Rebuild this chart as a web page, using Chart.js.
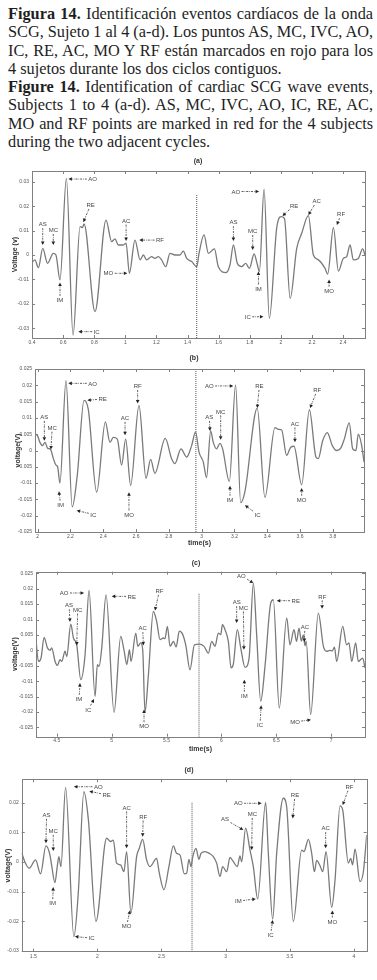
<!DOCTYPE html>
<html><head><meta charset="utf-8">
<script src="https://cdn.jsdelivr.net/npm/chart.js@4.4.0/dist/chart.umd.min.js"></script>
<style>
html,body{margin:0;padding:0;background:#fff;}
body{width:377px;height:980px;position:relative;overflow:hidden;}
#cap{position:absolute;left:8px;top:5px;width:365px;font-family:"Liberation Serif","Times New Roman",serif;font-size:16.3px;line-height:18.3px;color:#1e1e1e;}
#cap .ln{white-space:nowrap;}
canvas{position:absolute;left:0;}
</style>
</head><body>
<div id="cap">
<div class="ln j"><span><b>Figura 14.</b> Identificación eventos cardíacos de la onda</span></div>
<div class="ln j"><span>SCG, Sujeto 1 al 4 (a-d). Los puntos AS, MC, IVC, AO,</span></div>
<div class="ln j"><span>IC, RE, AC, MO Y RF están marcados en rojo para los</span></div>
<div class="ln"><span>4 sujetos durante los dos ciclos contiguos.</span></div>
<div class="ln j"><span><b>Figure 14.</b> Identification of cardiac SCG wave events,</span></div>
<div class="ln j"><span>Subjects 1 to 4 (a-d). AS, MC, IVC, AO, IC, RE, AC,</span></div>
<div class="ln j"><span>MO and RF points are marked in red for the 4 subjects</span></div>
<div class="ln"><span>during the two adjacent cycles.</span></div>
</div>
<canvas id="pa" width="377" height="204" style="top:148px"></canvas>
<canvas id="pb" width="377" height="200" style="top:352px"></canvas>
<canvas id="pc" width="377" height="205" style="top:553px"></canvas>
<canvas id="pd" width="377" height="217" style="top:758px"></canvas>
<script>
// ---------- Panel (a) ----------
const timeA = [0.400,0.419,0.441,0.469,0.500,0.537,0.554,0.580,0.621,0.664,0.709,0.724,0.735,0.805,0.876,0.912,0.934,0.955,0.987,1.005,1.026,1.062,1.095,1.116,1.137,1.169,1.190,1.212,1.233,1.260,1.287,1.319,1.351,1.373,1.395,1.427,1.459,1.474,1.506,1.534,1.573,1.598,1.648,1.673,1.695,1.720,1.748,1.774,1.798,1.828,1.849,1.862,1.892,1.926,1.973,2.001,2.023,2.060,2.102,2.134,2.177,2.209,2.241,2.284,2.301,2.338,2.370,2.402,2.423,2.445,2.466,2.498,2.526,2.541];
const voltA = [-0.0030,-0.0020,-0.0052,0.0027,-0.0034,0.0007,0.0000,-0.0102,0.0314,-0.0328,0.0116,0.0112,0.0127,-0.0232,0.0143,0.0055,0.0066,0.0041,0.0041,0.0048,-0.0075,0.0061,-0.0020,0.0000,-0.0020,-0.0007,-0.0014,-0.0007,-0.0020,-0.0048,0.0007,0.0000,0.0000,0.0016,-0.0014,-0.0027,-0.0048,0.0007,0.0082,0.0007,0.0025,-0.0048,-0.0072,-0.0040,0.0041,-0.0034,-0.0048,-0.0034,-0.0055,0.0004,-0.0040,-0.0068,0.0270,-0.0260,0.0109,0.0157,0.0150,-0.0178,0.0027,0.0089,0.0161,0.0000,-0.0020,-0.0055,-0.0078,0.0112,-0.0066,-0.0014,-0.0007,0.0041,-0.0020,-0.0014,0.0025,0.0000];
const xTicksA = [0.4,0.6,0.8,1,1.2,1.4,1.6,1.8,2,2.2,2.4];
const yTicksA = [-0.03,-0.02,-0.01,0,0.01,0.02,0.03];
const dividerA = [1.459, 0.025];
const eventsA = [
  ['AS',0.469,0.0041,0.469,0.0126],['MC',0.537,0.0041,0.537,0.0102],['IM',0.580,-0.0113,0.580,-0.0184],
  ['AO',0.634,0.0311,0.790,0.0311],['IC',0.698,-0.0314,0.816,-0.0314],['RE',0.730,0.0134,0.777,0.0205],
  ['AC',1.005,0.0057,1.005,0.0141],['RF',1.090,0.0061,1.223,0.0061],['MO',1.013,-0.0075,0.891,-0.0075],
  ['AO',1.860,0.0260,1.710,0.0260],['AS',1.695,0.0057,1.695,0.0134],['MC',1.819,0.0020,1.819,0.0098],
  ['IM',1.856,-0.0068,1.856,-0.0137],['IC',1.888,-0.0253,1.787,-0.0253],['RE',2.010,0.0160,2.085,0.0202],
  ['AC',2.177,0.0164,2.231,0.0221],['RF',2.360,0.0123,2.387,0.0167],['MO',2.310,-0.0100,2.310,-0.0146]
];

// ---------- Panel (b) ----------
const timeB = [1.984,2.000,2.014,2.030,2.045,2.061,2.079,2.096,2.112,2.122,2.136,2.173,2.211,2.242,2.283,2.309,2.360,2.413,2.441,2.461,2.486,2.512,2.537,2.567,2.618,2.661,2.689,2.715,2.778,2.817,2.837,2.874,2.909,2.939,2.963,2.984,3.010,3.030,3.055,3.071,3.091,3.112,3.128,3.169,3.207,3.238,3.264,3.339,3.386,3.447,3.468,3.488,3.518,3.543,3.563,3.610,3.657,3.697,3.711,3.738,3.766,3.797,3.823,3.848,3.870,3.900,3.921,3.941,3.955,3.976,3.990];
const voltB = [0.0050,0.0045,0.0025,0.0015,0.0025,0.0007,0.0003,-0.0025,-0.0045,-0.0050,-0.0100,0.0214,-0.0173,-0.0075,0.0154,0.0126,-0.0128,0.0088,0.0025,0.0040,0.0035,-0.0045,0.0035,-0.0107,0.0138,-0.0085,-0.0027,-0.0070,0.0037,-0.0025,-0.0040,0.0005,-0.0020,0.0015,0.0057,-0.0005,-0.0035,-0.0083,0.0060,0.0025,0.0005,0.0022,0.0005,-0.0095,0.0201,-0.0160,-0.0126,0.0130,-0.0144,0.0070,0.0065,0.0063,-0.0015,0.0010,0.0013,-0.0105,0.0125,-0.0020,-0.0025,0.0030,0.0055,0.0015,0.0000,0.0007,0.0035,0.0085,0.0005,0.0000,0.0050,0.0015,-0.0035];
const xTicksB = [2,2.2,2.4,2.6,2.8,3,3.2,3.4,3.6,3.8];
const yTicksB = [-0.025,-0.02,-0.015,-0.01,-0.005,0,0.005,0.01,0.015,0.02,0.025];
const dividerB = [2.965, 0.025];
const eventsB = [
  ['AS',2.041,0.0030,2.041,0.0103],['MC',2.081,0.0003,2.089,0.0070],['IM',2.130,-0.0125,2.140,-0.0166],
  ['AO',2.187,0.0206,2.335,0.0206],['RE',2.303,0.0154,2.396,0.0158],['IC',2.238,-0.0184,2.339,-0.0196],
  ['AC',2.533,0.0047,2.533,0.0100],['RF',2.610,0.0144,2.610,0.0198],['MO',2.557,-0.0128,2.557,-0.0196],
  ['AO',3.193,0.0198,3.047,0.0198],['AS',3.051,0.0060,3.047,0.0103],['MC',3.116,0.0033,3.116,0.0120],
  ['IM',3.173,-0.0108,3.173,-0.0151],['IC',3.264,-0.0168,3.341,-0.0196],['RE',3.339,0.0130,3.352,0.0198],
  ['AC',3.569,0.0025,3.569,0.0083],['RF',3.661,0.0130,3.705,0.0186],['MO',3.610,-0.0115,3.610,-0.0151]
];

// ---------- Panel (c) ----------
const timeC = [4.312,4.333,4.357,4.385,4.415,4.439,4.454,4.485,4.506,4.530,4.545,4.576,4.591,4.628,4.652,4.682,4.719,4.758,4.794,4.849,4.870,4.885,4.910,4.949,5.022,5.083,5.113,5.138,5.162,5.177,5.220,5.238,5.265,5.283,5.304,5.335,5.380,5.410,5.441,5.471,5.486,5.508,5.532,5.563,5.587,5.617,5.648,5.675,5.714,5.754,5.796,5.842,5.881,5.912,5.942,5.972,5.994,6.009,6.033,6.063,6.088,6.109,6.145,6.176,6.215,6.252,6.291,6.321,6.358,6.397,6.449,6.473,6.527,6.595,6.625,6.661,6.685,6.707,6.728,6.745,6.762,6.772,6.813,6.883,6.929,6.959,6.989,7.010,7.030,7.050,7.105,7.141,7.162,7.187,7.223,7.247,7.287,7.308];
const voltC = [0.0029,-0.0036,-0.0025,0.0042,0.0008,0.0000,0.0008,-0.0036,-0.0049,-0.0030,-0.0036,-0.0003,-0.0020,0.0085,0.0040,0.0018,-0.0095,-0.0014,0.0194,-0.0149,-0.0046,-0.0052,0.0008,0.0180,-0.0201,0.0045,0.0000,-0.0046,0.0002,-0.0036,0.0056,0.0013,0.0024,0.0002,-0.0200,-0.0079,0.0126,0.0094,0.0035,0.0040,0.0038,0.0078,0.0013,0.0029,0.0011,0.0062,0.0051,0.0018,-0.0063,0.0018,0.0020,0.0013,-0.0009,0.0029,0.0013,0.0056,0.0051,0.0083,0.0067,0.0029,-0.0057,-0.0044,0.0067,0.0008,-0.0055,-0.0025,0.0218,0.0051,-0.0165,-0.0052,0.0153,0.0164,-0.0187,0.0105,0.0018,0.0067,0.0029,0.0072,0.0030,0.0050,0.0015,0.0030,-0.0208,0.0121,0.0013,-0.0003,0.0000,-0.0002,0.0010,-0.0036,0.0078,0.0018,0.0024,-0.0036,0.0024,-0.0036,-0.0025,-0.0057];
const xTicksC = [4.5,5,5.5,6,6.5,7];
const yTicksC = [-0.025,-0.02,-0.015,-0.01,-0.005,0,0.005,0.01,0.015,0.02,0.025];
const dividerC = [5.796, 0.0184];
const eventsC = [
  ['AO',4.749,0.0186,4.567,0.0186],['AS',4.621,0.0092,4.612,0.0146],['MC',4.682,0.0016,4.691,0.0132],
  ['IM',4.712,-0.0106,4.703,-0.0157],['IC',4.840,-0.0158,4.788,-0.0192],['RE',5.001,0.0175,5.183,0.0175],
  ['AC',5.289,0.0016,5.283,0.0072],['RF',5.395,0.0129,5.435,0.0193],['MO',5.295,-0.0192,5.295,-0.0246],
  ['AO',6.290,0.0218,6.181,0.0243],['AS',6.139,0.0089,6.139,0.0156],['MC',6.205,0.0002,6.200,0.0139],
  ['IM',6.209,-0.0095,6.209,-0.0147],['IC',6.362,-0.0178,6.352,-0.0241],['RE',6.504,0.0161,6.677,0.0161],
  ['AC',6.755,0.0027,6.761,0.0076],['RF',6.917,0.0135,6.919,0.0175],['MO',6.816,-0.0225,6.670,-0.0232]
];

// ---------- Panel (d) ----------
const timeD = [1.410,1.435,1.469,1.518,1.557,1.599,1.630,1.643,1.669,1.687,1.700,1.716,1.752,1.817,1.851,1.895,1.930,1.989,2.072,2.103,2.124,2.150,2.181,2.207,2.228,2.262,2.306,2.327,2.353,2.384,2.410,2.462,2.483,2.519,2.558,2.592,2.618,2.644,2.678,2.696,2.714,2.730,2.743,2.769,2.792,2.808,2.839,2.873,2.904,2.930,2.956,2.977,3.008,3.034,3.060,3.091,3.112,3.125,3.156,3.190,3.216,3.250,3.312,3.333,3.367,3.398,3.450,3.476,3.528,3.593,3.611,3.645,3.671,3.692,3.710,3.736,3.757,3.783,3.827,3.853,3.892,3.913,3.957,3.975,3.990,4.009,4.048,4.074,4.100];
const voltD = [0.0031,0.0000,-0.0021,0.0007,-0.0040,0.0054,0.0024,-0.0010,-0.0070,-0.0016,0.0018,-0.0016,0.0252,-0.0252,-0.0106,0.0237,0.0142,-0.0201,0.0080,0.0069,0.0074,-0.0004,-0.0010,-0.0033,0.0035,-0.0173,0.0018,0.0046,0.0076,0.0007,-0.0016,0.0012,-0.0038,-0.0094,-0.0016,0.0054,0.0029,0.0024,-0.0040,-0.0038,0.0009,-0.0016,0.0016,0.0046,0.0009,0.0029,0.0035,0.0029,0.0018,-0.0004,-0.0049,-0.0016,-0.0033,0.0015,0.0001,-0.0016,0.0020,0.0001,0.0114,0.0040,-0.0016,-0.0125,0.0201,0.0029,-0.0193,0.0029,0.0215,0.0186,-0.0201,0.0040,0.0035,0.0076,0.0029,-0.0033,0.0005,-0.0013,-0.0033,0.0035,-0.0153,-0.0061,0.0189,0.0175,-0.0004,0.0012,-0.0010,0.0043,-0.0066,-0.0033,0.0091];
const xTicksD = [1.5,2,2.5,3,3.5,4];
const yTicksD = [-0.03,-0.02,-0.01,0,0.01,0.02];
const dividerD = [2.738, 0.020];
const eventsD = [
  ['AS',1.599,0.0063,1.604,0.0159],['MC',1.656,0.0037,1.656,0.0105],['IM',1.656,-0.0085,1.651,-0.0139],
  ['AO',1.817,0.0254,2.007,0.0254],['RE',1.937,0.0239,2.072,0.0226],['IC',1.825,-0.0252,1.955,-0.0257],
  ['AC',2.228,0.0046,2.228,0.0184],['RF',2.353,0.0085,2.358,0.0153],['MO',2.254,-0.0164,2.228,-0.0216],
  ['AO',3.281,0.0198,3.099,0.0198],['AS',3.138,0.0108,2.995,0.0144],['MC',3.203,0.0040,3.208,0.0162],
  ['IM',3.235,-0.0125,3.099,-0.0132],['IC',3.367,-0.0196,3.351,-0.0246],['RE',3.523,0.0147,3.541,0.0226],
  ['AC',3.780,0.0046,3.780,0.0114],['RF',3.913,0.0192,3.965,0.0254],['MO',3.832,-0.0164,3.832,-0.0201]
];

// ---------- layout (positions / sizes only) ----------
const layoutA = {xmin:0.4,xmax:2.541,ymin:-0.034,ymax:0.0344,padTop:23,padRight:12,yW:32,xH:14,xPad:1.5,title:'(a)',tx:198,ty:13,yTitle:'Voltage (v)',yTitlePad:10.8,xTitle:'',xTitlePad:0};
const layoutB = {xmin:1.984,xmax:3.99,ymin:-0.025,ymax:0.025,padTop:17,padRight:13,yW:35,xH:20,xPad:1.5,title:'(b)',tx:194,ty:6,yTitle:'voltage(V)',yTitlePad:14,xTitle:'time(s)',xTitlePad:4.5};
const layoutC = {xmin:4.311,xmax:7.308,ymin:-0.028,ymax:0.0255,padTop:18.7,padRight:12,yW:36,xH:21.3,xPad:0.8,title:'(c)',tx:196,ty:9.7,yTitle:'voltage(V)',yTitlePad:10.8,xTitle:'time(s)',xTitlePad:4.8};
const layoutD = {xmin:1.41,xmax:4.1,ymin:-0.0303,ymax:0.0279,padTop:21.3,padRight:10.3,yW:21.7,xH:23.3,xPad:2,title:'(d)',tx:189,ty:12,yTitle:'voltage(V)',yTitlePad:4.1,xTitle:'',xTitlePad:0};

Chart.defaults.font.family = "'Liberation Sans', Arial, sans-serif";

const fmt = v => String(Number(Number(v).toFixed(4)));

const framePlugin = {
  id: 'frame',
  afterDatasetsDraw(chart, args, o) {
    const {ctx, chartArea: a, scales: {x, y}} = chart;
    ctx.save();
    ctx.strokeStyle = '#808080'; ctx.lineWidth = 1;
    ctx.strokeRect(Math.round(a.left)+0.5, Math.round(a.top)+0.5, Math.round(a.right-a.left), Math.round(a.bottom-a.top));
    ctx.beginPath();
    x.ticks.forEach(t => {
      const px = Math.round(x.getPixelForValue(t.value)) + 0.5;
      ctx.moveTo(px, a.bottom); ctx.lineTo(px, a.bottom - 3);
      ctx.moveTo(px, a.top); ctx.lineTo(px, a.top + 3);
    });
    y.ticks.forEach(t => {
      const py = Math.round(y.getPixelForValue(t.value)) + 0.5;
      ctx.moveTo(a.left, py); ctx.lineTo(a.left + 3, py);
      ctx.moveTo(a.right, py); ctx.lineTo(a.right - 3, py);
    });
    ctx.stroke();
    ctx.fillStyle = '#333';
    ctx.font = "bold 7px 'Liberation Sans', Arial, sans-serif";
    ctx.textAlign = 'center'; ctx.textBaseline = 'middle';
    ctx.fillText(o.title, o.tx, o.ty);
    ctx.font = "6px 'Liberation Sans', Arial, sans-serif";
    o.events.forEach(([n, ptx, pty, lbx, lby]) => {
      const P = {x: x.getPixelForValue(ptx), y: y.getPixelForValue(pty)};
      const L = {x: x.getPixelForValue(lbx), y: y.getPixelForValue(lby)};
      ctx.fillStyle = '#444';
      ctx.fillText(n, L.x, L.y + 0.5);
      let dx = P.x - L.x, dy = P.y - L.y;
      const d = Math.hypot(dx, dy); dx /= d; dy /= d;
      const hw = ctx.measureText(n).width / 2 + 1.5, hh = 4;
      const off = Math.min(Math.abs(dx) > 1e-6 ? hw / Math.abs(dx) : 1e9, Math.abs(dy) > 1e-6 ? hh / Math.abs(dy) : 1e9);
      const S = {x: L.x + dx * off, y: L.y + dy * off};
      const E = {x: P.x - dx * 3, y: P.y - dy * 3};
      ctx.strokeStyle = '#333'; ctx.lineWidth = 0.8;
      ctx.setLineDash([2, 1, 0.7, 1]);
      ctx.beginPath(); ctx.moveTo(S.x, S.y); ctx.lineTo(E.x, E.y); ctx.stroke();
      ctx.setLineDash([]);
      ctx.fillStyle = '#222';
      ctx.beginPath();
      ctx.moveTo(P.x, P.y);
      ctx.lineTo(P.x - dx * 3.5 - dy * 1.8, P.y - dy * 3.5 + dx * 1.8);
      ctx.lineTo(P.x - dx * 3.5 + dy * 1.8, P.y - dy * 3.5 - dx * 1.8);
      ctx.closePath(); ctx.fill();
    });
    ctx.restore();
  }
};

function panel(id, L, t, v, div, xt, yt, ev) {
  new Chart(document.getElementById(id), {
    type: 'line',
    data: {datasets: [
      {data: t.map((x, i) => ({x, y: v[i]})), borderColor: '#7a7a7a', borderWidth: 1.3, pointRadius: 0, cubicInterpolationMode: 'monotone', fill: false},
      {data: [{x: div[0], y: L.ymin}, {x: div[0], y: div[1]}], borderColor: '#555', borderWidth: 1, borderDash: [1, 1], pointRadius: 0, fill: false}
    ]},
    options: {
      responsive: false, animation: false, events: [],
      layout: {padding: {top: L.padTop, right: L.padRight, left: 0, bottom: 0}},
      plugins: {legend: {display: false}, tooltip: {enabled: false},
        frame: {title: L.title, tx: L.tx, ty: L.ty, events: ev}},
      scales: {
        x: {type: 'linear', min: L.xmin, max: L.xmax,
          afterBuildTicks: s => { s.ticks = xt.map(value => ({value})); },
          afterFit: s => { s.height = L.xH; },
          grid: {display: false, drawTicks: false}, border: {display: false},
          ticks: {autoSkip: false, maxRotation: 0, minRotation: 0, padding: L.xPad, font: {size: 5}, color: '#555', callback: v => fmt(v)},
          title: {display: !!L.xTitle, text: L.xTitle, font: {size: 7, weight: 'bold'}, color: '#333', padding: {top: 0, bottom: L.xTitlePad}}},
        y: {type: 'linear', min: L.ymin, max: L.ymax,
          afterBuildTicks: s => { s.ticks = yt.map(value => ({value})); },
          afterFit: s => { s.width = L.yW; },
          grid: {display: false, drawTicks: false}, border: {display: false},
          ticks: {autoSkip: false, padding: 3, font: {size: 5}, color: '#555', callback: v => fmt(v)},
          title: {display: true, text: L.yTitle, font: {size: 7, weight: 'bold'}, color: '#333', padding: {top: L.yTitlePad, bottom: 0}}}
      }
    },
    plugins: [framePlugin]
  });
}

panel('pa', layoutA, timeA, voltA, dividerA, xTicksA, yTicksA, eventsA);
panel('pb', layoutB, timeB, voltB, dividerB, xTicksB, yTicksB, eventsB);
panel('pc', layoutC, timeC, voltC, dividerC, xTicksC, yTicksC, eventsC);
panel('pd', layoutD, timeD, voltD, dividerD, xTicksD, yTicksD, eventsD);

// justify caption lines to the text block width
document.querySelectorAll('#cap .j span').forEach(sp => {
  const w = sp.getBoundingClientRect().width;
  const n = (sp.textContent.match(/ /g) || []).length;
  if (n) sp.style.wordSpacing = ((365 - w) / n) + 'px';
});
</script>
</body></html>
